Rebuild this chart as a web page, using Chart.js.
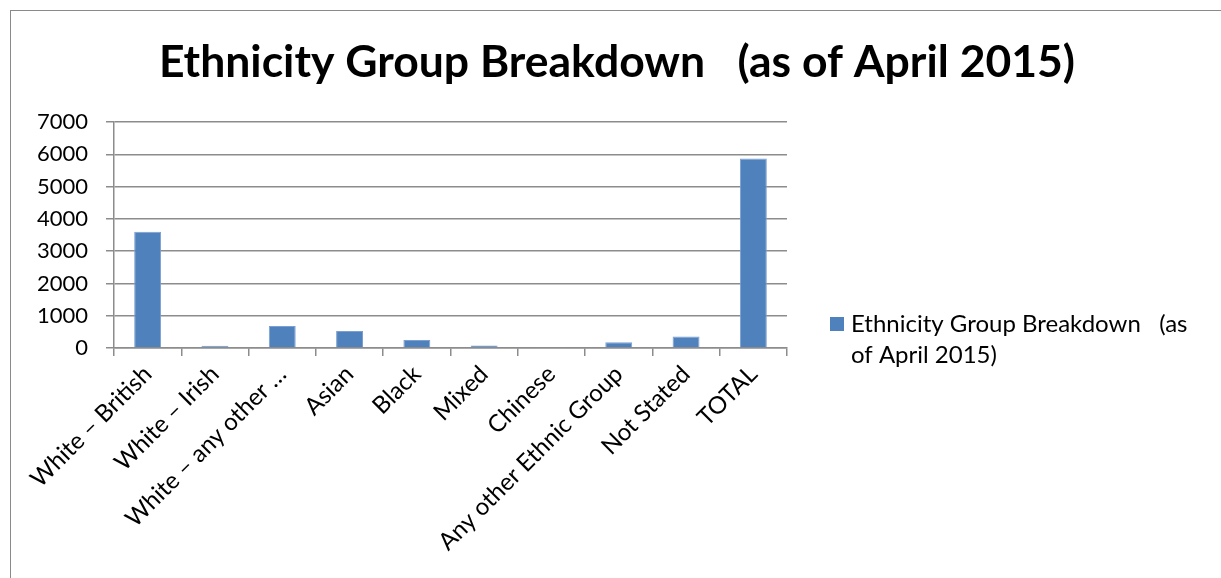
<!DOCTYPE html>
<html>
<head>
<meta charset="utf-8">
<script src="https://cdn.jsdelivr.net/npm/chart.js@4"></script>
<style>
  html, body { margin: 0; padding: 0; background: #fff; }
  #frame {
    position: absolute; left: 10px; top: 10px; right: -5px; bottom: -5px;
    border-left: 1px solid #8a8a8a; border-top: 1px solid #8a8a8a;
  }
  #wrap { position: absolute; left: 0; top: 0; width: 1221px; height: 578px; }
</style>
</head>
<body>
<div id="frame"></div>
<div id="wrap"><canvas id="chart" width="1221" height="578"></canvas></div>
<script>
const categories = [
  "White \u2013 British", "White \u2013 Irish", "White \u2013 any other \u2026", "Asian", "Black",
  "Mixed", "Chinese", "Any other Ethnic Group", "Not Stated", "TOTAL"
];
const counts = [3600, 70, 680, 530, 250, 80, 30, 180, 360, 5870];
const yTicks = [0, 1000, 2000, 3000, 4000, 5000, 6000, 7000];
const seriesName = "Ethnicity Group Breakdown   (as of April 2015)";

const barBlue = "#4f81bd";
const gridGrey = "#8c8c8c";
const fontFamily = "Lato, 'Open Sans', sans-serif";

// heading centred over the whole sheet, not just the plot
const heading = {
  id: "heading",
  afterDraw(chart) {
    const ctx = chart.ctx;
    ctx.save();
    ctx.font = "bold 44.5px " + fontFamily;
    ctx.textAlign = "center";
    ctx.textBaseline = "middle";
    ctx.fillStyle = "#000";
    ctx.fillText(chart.data.datasets[0].label, 617, 63);
    ctx.restore();
  }
};

// legend box on the right, wrapped onto two lines
const sideLegend = {
  id: "sideLegend",
  afterDraw(chart) {
    const ctx = chart.ctx;
    const ds = chart.data.datasets[0];
    ctx.save();
    ctx.font = "24px " + fontFamily;
    ctx.textBaseline = "middle";
    const words = ds.label.match(/\S+\s*/g);
    const maxW = 355;
    const lines = [];
    let line = "";
    words.forEach(w => {
      if (line && ctx.measureText((line + w).trimEnd()).width > maxW) {
        lines.push(line.trimEnd());
        line = w;
      } else {
        line += w;
      }
    });
    lines.push(line.trimEnd());
    const x0 = 830, y0 = 324;
    ctx.fillStyle = ds.backgroundColor;
    ctx.fillRect(x0, y0 - 7, 14, 14);
    ctx.fillStyle = "#000";
    lines.forEach((l, i) => ctx.fillText(l, x0 + 21, y0 + i * 31));
    ctx.restore();
  }
};

new Chart(document.getElementById("chart"), {
  type: "bar",
  data: {
    labels: categories,
    datasets: [{
      label: seriesName,
      data: counts,
      backgroundColor: barBlue,
      borderColor: "#7a9fd2",
      borderWidth: 1,
      barPercentage: 0.8,
      categoryPercentage: 0.5
    }]
  },
  options: {
    responsive: false,
    animation: false,
    events: [],
    layout: { padding: { left: 14, right: 434, top: 122, bottom: 0 } },
    plugins: {
      legend: { display: false },
      tooltip: { enabled: false },
      title: { display: false }
    },
    scales: {
      x: {
        grid: {
          offset: true,
          drawOnChartArea: false,
          drawTicks: true,
          tickLength: 8,
          color: gridGrey,
          lineWidth: 1.5
        },
        border: { color: gridGrey, width: 1.5 },
        ticks: {
          color: "#000",
          font: { family: fontFamily, size: 24 },
          minRotation: 45,
          maxRotation: 45,
          autoSkip: false,
          padding: 4
        },
        afterFit(scale) { scale.height = 230; }
      },
      y: {
        min: 0,
        max: 7000,
        afterBuildTicks(scale) { scale.ticks = yTicks.map(v => ({ value: v })); },
        grid: {
          color: gridGrey,
          lineWidth: 1.5,
          tickLength: 8
        },
        border: { color: gridGrey, width: 1.5 },
        ticks: {
          color: "#000",
          font: { family: fontFamily, size: 22 },
          padding: 18,
          callback: v => String(v)
        },
        afterFit(scale) { scale.width = 100; }
      }
    }
  },
  plugins: [heading, sideLegend]
});
</script>
</body>
</html>
